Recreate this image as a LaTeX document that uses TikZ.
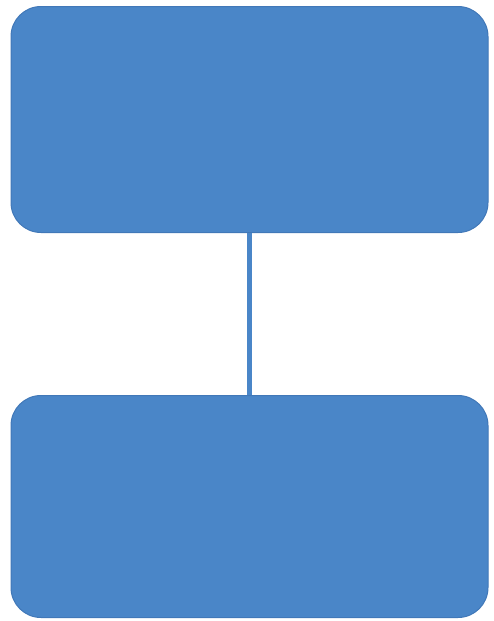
\documentclass[tikz,border=0pt]{standalone}
\definecolor{boxfill}{HTML}{4A86C8}
\definecolor{boxedge}{HTML}{4178B8}
\tikzset{
  blockbox/.style={draw=boxedge, line width=1pt, fill=boxfill, rounded corners=30pt},
  link/.style={draw=boxfill, line width=5pt}
}
\begin{document}
\begin{tikzpicture}[x=1pt,y=-1pt]
\useasboundingbox (0,0) rectangle (493,621);
\node[blockbox, minimum width=477pt, minimum height=226pt, inner sep=0pt] (top) at (249.5,119.5) {};
\node[blockbox, minimum width=477pt, minimum height=222pt, inner sep=0pt] (bot) at (249.5,506.5) {};
\draw[link] (top.south) -- (bot.north);
\end{tikzpicture}
\end{document}
